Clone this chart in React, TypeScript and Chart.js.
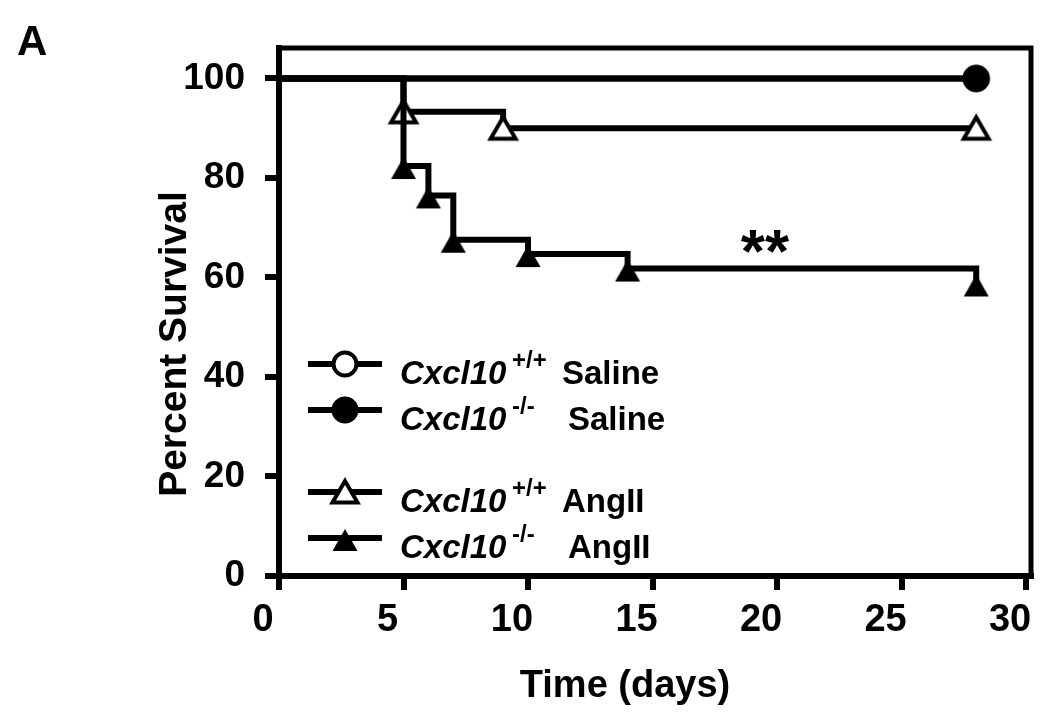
import React, { useEffect, useRef } from 'react';
import { Chart, registerables } from 'chart.js';

Chart.register(...registerables);

// ---------- data ----------
const X_TICKS = [0, 5, 10, 15, 20, 25, 30];
const Y_TICKS = [0, 20, 40, 60, 80, 100];

const SALINE_KO_DAYS = [0, 28];
const SALINE_KO_SURV = [100, 100];
const SALINE_WT_DAYS = [0, 28];
const SALINE_WT_SURV = [100, 100];
const ANG_WT_DAYS = [0, 5, 9, 28];
const ANG_WT_SURV = [100, 93.3, 90, 90];
const ANG_KO_DAYS = [0, 5, 6, 7, 10, 14, 28];
const ANG_KO_SURV = [100, 82.4, 76.5, 67.6, 64.7, 61.8, 58.8];

const GENE = 'Cxcl10';
const LEGEND_GENOTYPES = ['+/+', '-/-', '+/+', '-/-'];
const LEGEND_TREATMENTS = ['Saline', 'Saline', 'AngII', 'AngII'];
const X_TITLE = 'Time (days)';
const Y_TITLE = 'Percent Survival';
const PANEL = 'A';
const SIGNIF = '**';

const FAMILY = '"Liberation Sans", Arial, Helvetica, sans-serif';

type Kind = 'openCircle' | 'filledCircle' | 'openTri' | 'filledTri';

function makeMarker(kind: Kind): HTMLCanvasElement {
  const c = document.createElement('canvas');
  c.width = 40;
  c.height = 40;
  const g = c.getContext('2d') as CanvasRenderingContext2D;
  g.translate(20, 20);
  g.lineWidth = 4;
  g.strokeStyle = '#000';
  g.fillStyle = '#000';
  g.beginPath();
  if (kind === 'openCircle') {
    g.arc(0, 0, 11.5, 0, Math.PI * 2);
    g.fillStyle = '#fff';
    g.fill();
    g.stroke();
  } else if (kind === 'filledCircle') {
    g.arc(0, 0, 13.5, 0, Math.PI * 2);
    g.fill();
  } else if (kind === 'openTri') {
    g.moveTo(0, -11);
    g.lineTo(12.5, 10.5);
    g.lineTo(-12.5, 10.5);
    g.closePath();
    g.fillStyle = '#fff';
    g.fill();
    g.lineJoin = 'miter';
    g.stroke();
  } else {
    g.moveTo(0, -9);
    g.lineTo(12.5, 13);
    g.lineTo(-12.5, 13);
    g.closePath();
    g.fill();
  }
  return c;
}

function pts(xs: number[], ys: number[]) {
  return xs.map((x, i) => ({ x, y: ys[i] }));
}

export default function App() {
  const ref = useRef<HTMLCanvasElement | null>(null);

  useEffect(() => {
    if (!ref.current) return;
    const markers: Record<Kind, HTMLCanvasElement> = {
      openCircle: makeMarker('openCircle'),
      filledCircle: makeMarker('filledCircle'),
      openTri: makeMarker('openTri'),
      filledTri: makeMarker('filledTri'),
    };

    const legendRows = [
      { kind: 'openCircle' as Kind, y: 364, base: 384, supX: 512, nameX: 562 },
      { kind: 'filledCircle' as Kind, y: 410, base: 430, supX: 512, nameX: 568 },
      { kind: 'openTri' as Kind, y: 492, base: 512, supX: 512, nameX: 562 },
      { kind: 'filledTri' as Kind, y: 538, base: 558, supX: 512, nameX: 568 },
    ];

    const annotate = {
      id: 'annotate',
      beforeDatasetsDraw(chart: any) {
        const ctx: CanvasRenderingContext2D = chart.ctx;
        const a = chart.chartArea;
        ctx.save();
        ctx.strokeStyle = '#000';
        ctx.lineWidth = 5;
        ctx.lineJoin = 'miter';
        ctx.beginPath();
        ctx.moveTo(a.left - 3, a.top);
        ctx.lineTo(a.right, a.top);
        ctx.lineTo(a.right, a.bottom + 3);
        ctx.stroke();
        ctx.restore();
      },
      afterDraw(chart: any) {
        const ctx: CanvasRenderingContext2D = chart.ctx;
        ctx.save();
        ctx.fillStyle = '#000';
        ctx.textBaseline = 'alphabetic';

        // panel letter
        ctx.font = `bold 42px ${FAMILY}`;
        ctx.textAlign = 'left';
        ctx.fillText(PANEL, 17, 55);

        // significance
        ctx.font = `bold 62px ${FAMILY}`;
        ctx.textAlign = 'center';
        ctx.fillText(SIGNIF, 765, 272);

        // axis titles
        ctx.font = `bold 38px ${FAMILY}`;
        ctx.textAlign = 'center';
        ctx.fillText(X_TITLE, 625, 697);
        ctx.save();
        ctx.translate(186, 344);
        ctx.rotate(-Math.PI / 2);
        ctx.font = `bold 39px ${FAMILY}`;
        ctx.fillText(Y_TITLE, 0, 0);
        ctx.restore();

        // legend
        legendRows.forEach((r, i) => {
          ctx.strokeStyle = '#000';
          ctx.lineWidth = 6;
          ctx.beginPath();
          ctx.moveTo(308, r.y);
          ctx.lineTo(382, r.y);
          ctx.stroke();
          const m = markers[r.kind];
          ctx.drawImage(m, 345 - m.width / 2, r.y - m.height / 2);
          ctx.textAlign = 'left';
          ctx.font = `italic bold 33px ${FAMILY}`;
          ctx.fillText(GENE, 400, r.base);
          ctx.font = `bold 24px ${FAMILY}`;
          ctx.fillText(LEGEND_GENOTYPES[i], r.supX, r.base - 16);
          ctx.font = `bold 33px ${FAMILY}`;
          ctx.fillText(LEGEND_TREATMENTS[i], r.nameX, r.base);
        });
        ctx.restore();
      },
    };

    const radiusAfterFirst = (c: any) => (c.dataIndex === 0 ? 0 : 10);

    const common = {
      borderColor: '#000',
      backgroundColor: '#000',
      borderWidth: 6,
      stepped: 'before' as const,
      tension: 0,
      fill: false,
      pointRadius: radiusAfterFirst,
      pointHoverRadius: radiusAfterFirst,
    };

    const chart = new Chart(ref.current, {
      type: 'line',
      data: {
        datasets: [
          {
            ...common,
            label: `${GENE} ${LEGEND_GENOTYPES[1]} ${LEGEND_TREATMENTS[1]}`,
            data: pts(SALINE_KO_DAYS, SALINE_KO_SURV),
            pointStyle: markers.filledCircle,
          },
          {
            ...common,
            label: `${GENE} ${LEGEND_GENOTYPES[0]} ${LEGEND_TREATMENTS[0]}`,
            data: pts(SALINE_WT_DAYS, SALINE_WT_SURV),
            pointStyle: markers.openCircle,
          },
          {
            ...common,
            label: `${GENE} ${LEGEND_GENOTYPES[3]} ${LEGEND_TREATMENTS[3]}`,
            data: pts(ANG_KO_DAYS, ANG_KO_SURV),
            pointStyle: markers.filledTri,
          },
          {
            ...common,
            label: `${GENE} ${LEGEND_GENOTYPES[2]} ${LEGEND_TREATMENTS[2]}`,
            data: pts(ANG_WT_DAYS, ANG_WT_SURV),
            pointStyle: markers.openTri,
          },
        ] as any,
      },
      options: {
        responsive: false,
        animation: false,
        events: [],
        layout: { padding: { top: 48, right: 19, bottom: 0, left: 0 } },
        plugins: {
          legend: { display: false },
          tooltip: { enabled: false },
          title: { display: false },
        },
        scales: {
          x: {
            type: 'linear',
            min: 0,
            max: 30.2,
            afterBuildTicks: (s: any) => {
              s.ticks = X_TICKS.map((v) => ({ value: v }));
            },
            afterFit: (s: any) => {
              s.height = 148;
              s.paddingLeft = 0;
              s.paddingRight = 0;
            },
            grid: {
              drawOnChartArea: false,
              drawTicks: true,
              tickLength: 14,
              lineWidth: 6,
              color: '#000',
              tickColor: '#000',
            },
            border: { display: true, color: '#000', width: 6 },
            ticks: {
              color: '#000',
              font: { family: FAMILY, size: 38, weight: 'bold' },
              padding: 8,
              labelOffset: -16,
              maxRotation: 0,
              autoSkip: false,
            },
          },
          y: {
            type: 'linear',
            min: 0,
            max: 106.13,
            afterBuildTicks: (s: any) => {
              s.ticks = Y_TICKS.map((v) => ({ value: v }));
            },
            afterFit: (s: any) => {
              s.width = 279;
              s.paddingTop = 0;
              s.paddingBottom = 0;
            },
            grid: {
              drawOnChartArea: false,
              drawTicks: true,
              tickLength: 14,
              lineWidth: 6,
              color: '#000',
              tickColor: '#000',
            },
            border: { display: true, color: '#000', width: 6 },
            ticks: {
              color: '#000',
              font: { family: FAMILY, size: 37, weight: 'bold' },
              padding: 20,
              autoSkip: false,
            },
          },
        },
      } as any,
      plugins: [annotate],
    });

    return () => chart.destroy();
  }, []);

  return (
    <div style={{ position: 'absolute', left: 0, top: 0, width: 1050, height: 724, background: '#fff' }}>
      <canvas ref={ref} width={1050} height={724} style={{ display: 'block' }} />
    </div>
  );
}
